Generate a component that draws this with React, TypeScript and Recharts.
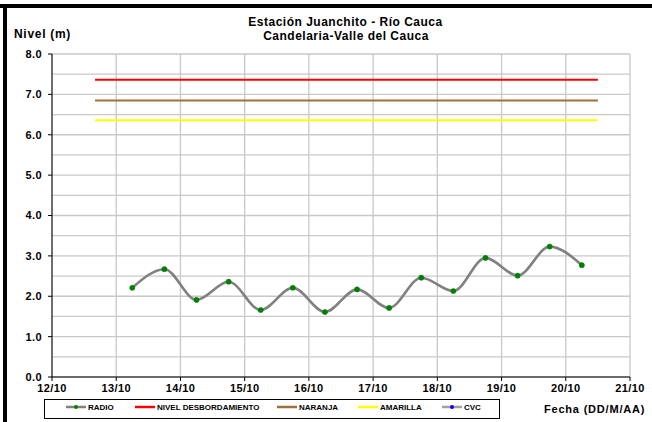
import React from 'react';
import { LineChart, Line, XAxis, YAxis, CartesianGrid } from 'recharts';

// fechas (dia de octubre) y nivel medido en Juanchito
const days = [13.25, 13.75, 14.25, 14.75, 15.25, 15.75, 16.25, 16.75, 17.25, 17.75, 18.25, 18.75, 19.25, 19.75, 20.25];
const radio = [2.21, 2.67, 1.91, 2.36, 1.66, 2.21, 1.61, 2.17, 1.71, 2.46, 2.13, 2.95, 2.51, 3.23, 2.77];
const cvc: number[] = [];

// niveles de alerta
const alertSpan = [12.67, 20.5];
const desbordamiento = 7.36;
const naranja = 6.85;
const amarilla = 6.36;

const xTicks = [12, 13, 14, 15, 16, 17, 18, 19, 20, 21];
const yTicks = [0, 0.5, 1, 1.5, 2, 2.5, 3, 3.5, 4, 4.5, 5, 5.5, 6, 6.5, 7, 7.5, 8];

const legendItems = [
  { name: 'RADIO', color: '#808080', dot: '#008000', x: 66 },
  { name: 'NIVEL DESBORDAMIENTO', color: '#ff0000', dot: '', x: 135 },
  { name: 'NARANJA', color: '#a0703c', dot: '', x: 277 },
  { name: 'AMARILLA', color: '#ffff00', dot: '', x: 358 },
  { name: 'CVC', color: '#a0a0a0', dot: '#0000ff', x: 442 },
];

const FONT = '"Liberation Sans", Arial, sans-serif';

const radioData = days.map((d, i) => ({ x: d, y: radio[i] }));
const cvcData = cvc.map((v, i) => ({ x: days[i], y: v }));
const flat = (v: number) => alertSpan.map((x) => ({ x, y: v }));

const YTick = (props: any) => {
  const { x, y, payload } = props;
  if (payload.value % 1 !== 0) return null;
  return (
    <g>
      <line x1={x + 6} x2={x + 10} y1={y} y2={y} stroke="#000" />
      <text x={x} y={y} dy="0.36em" textAnchor="end" fontFamily={FONT} fontWeight="bold" fontSize={11} letterSpacing={0.4} fill="#000">
        {payload.value.toFixed(1)}
      </text>
    </g>
  );
};

const App = () => {
  return (
    <div style={{ position: 'absolute', left: 0, top: 0, width: 652, height: 422, background: '#fff' }}>
      <LineChart width={652} height={422} margin={{ top: 54, right: 22, left: 0, bottom: 25 }}>
        <CartesianGrid stroke="#c8c8c8" strokeWidth={1.3} />
        <XAxis
          type="number"
          dataKey="x"
          domain={[12, 21]}
          ticks={xTicks}
          tickFormatter={(d) => `${d}/10`}
          height={20}
          tickSize={4}
          tickMargin={3}
          stroke="#000"
          tick={{ fill: '#000', fontFamily: FONT, fontWeight: 'bold', fontSize: 11, letterSpacing: 0.4 }}
          allowDataOverflow
        />
        <YAxis
          type="number"
          domain={[0, 8]}
          ticks={yTicks}
          width={52}
          tickSize={4}
          tickMargin={6}
          tickLine={false}
          stroke="#000"
          tick={<YTick />}
          interval={0}
        />
        <Line data={flat(desbordamiento)} dataKey="y" stroke="#ff0000" strokeWidth={2} dot={false} isAnimationActive={false} />
        <Line data={flat(naranja)} dataKey="y" stroke="#a0703c" strokeWidth={2} dot={false} isAnimationActive={false} />
        <Line data={flat(amarilla)} dataKey="y" stroke="#ffff00" strokeWidth={2} dot={false} isAnimationActive={false} />
        <Line data={cvcData} dataKey="y" stroke="#a0a0a0" strokeWidth={2} dot={{ r: 2.5, fill: '#0000ff', stroke: '#0000ff' }} isAnimationActive={false} />
        <Line
          data={radioData}
          dataKey="y"
          type="monotone"
          stroke="#808080"
          strokeWidth={2.6}
          dot={{ r: 2.6, fill: '#008000', stroke: '#008000', strokeWidth: 0.5 }}
          isAnimationActive={false}
        />
      </LineChart>
      <svg width={652} height={422} style={{ position: 'absolute', left: 0, top: 0, pointerEvents: 'none' }}>
        <rect x={0} y={4} width={652} height={4} fill="#000" />
        <rect x={3} y={4} width={4} height={418} fill="#000" />
        <g fontFamily={FONT} fontWeight="bold" fill="#000">
          <text x={345.5} y={26} fontSize={12} letterSpacing={0.5} textAnchor="middle">Estación Juanchito - Río Cauca</text>
          <text x={346} y={39.5} fontSize={12} letterSpacing={0.5} textAnchor="middle">Candelaria-Valle del Cauca</text>
          <text x={14} y={38} fontSize={12} letterSpacing={0.7}>Nivel (m)</text>
          <text x={544} y={413} fontSize={11} letterSpacing={0.8}>Fecha (DD/M/AA)</text>
        </g>
        <rect x={44.5} y={399.5} width={455} height={19} fill="#fff" stroke="#000" strokeWidth={1} />
        {legendItems.map((it) => (
          <g key={it.name}>
            <line x1={it.x} x2={it.x + 20} y1={407} y2={407} stroke={it.color} strokeWidth={2.5} />
            {it.dot && <circle cx={it.x + 10} cy={407} r={2} fill={it.dot} />}
            <text x={it.x + 22} y={410} fontFamily={FONT} fontWeight="bold" fontSize={8} fill="#000">
              {it.name}
            </text>
          </g>
        ))}
      </svg>
    </div>
  );
};

export default App;
